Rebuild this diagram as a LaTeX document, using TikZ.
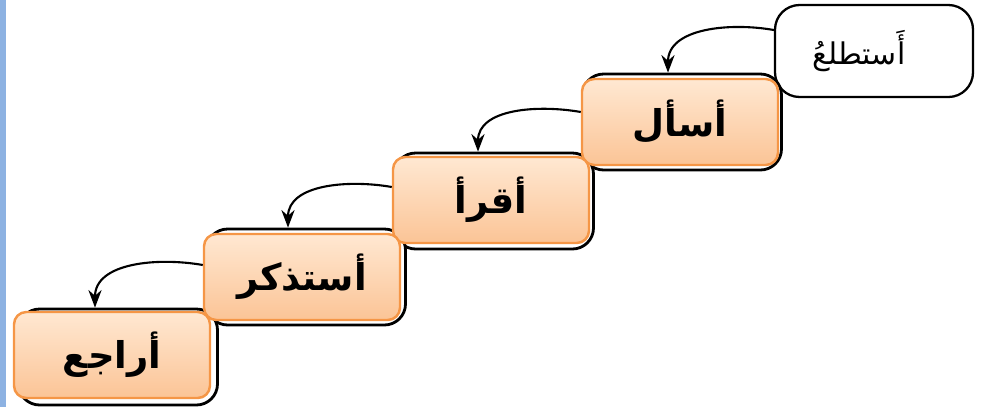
\documentclass[tikz,border=0pt]{standalone}
\usepackage{fontspec}
\TeXXeTstate=1
\newfontfamily\arabicfont[Script=Arabic]{DejaVu Sans}
\usetikzlibrary{arrows.meta}
\definecolor{barblue}{RGB}{141,178,226}
\definecolor{orangeline}{RGB}{245,150,70}
\definecolor{peachtop}{RGB}{255,232,210}
\definecolor{peachbot}{RGB}{251,196,150}
\newlength{\pxu}
\setlength{\pxu}{0.02cm}
\tikzset{
  backbox/.style={draw=black, line width=1.6pt, fill=white, rounded corners=12pt,
    minimum width=199\pxu, minimum height=96\pxu, inner sep=0pt},
  stepbox/.style={draw=orangeline, line width=1.4pt, top color=peachtop, bottom color=peachbot,
    rounded corners=7pt, minimum width=196\pxu, minimum height=86\pxu, inner sep=0pt,
    font=\arabicfont\bfseries\fontsize{21}{26}\selectfont},
  topbox/.style={draw=black, line width=1.3pt, fill=white, rounded corners=14pt,
    minimum width=198\pxu, minimum height=92\pxu, inner sep=0pt,
    font=\arabicfont\fontsize{17}{22}\selectfont},
  link/.style={draw=black, line width=1.2pt, -{Stealth[length=10pt,width=7.5pt]}}
}
\begin{document}
\begin{tikzpicture}[x=0.02cm,y=-0.02cm]
\useasboundingbox (0,0) rectangle (986,407);
\fill[barblue] (0,0) rectangle (6,407);
% top box
\node[topbox] (t0) at (874,51) {\beginR أَستطلعُ\endR\hspace*{30\pxu}};
% back boxes
\node[backbox] (b1) at (682,122) {};
\node[backbox] (b2) at (494,201) {};
\node[backbox] (b3) at (306,277) {};
\node[backbox] (b4) at (118,357) {};
% orange boxes
\node[stepbox] (s1) at (680,122) {\beginR أسأل\endR};
\node[stepbox] (s2) at (491,200) {\beginR أقرأ\endR};
\node[stepbox] (s3) at (302,277) {\beginR أستذكر\endR};
\node[stepbox] (s4) at (112,355) {\beginR أراجع\endR};
% links
\draw[link] (t0.west |- 0,30) to[out=170,in=90] (b1.north -| 668,0);
\draw[link] (s1.west |- 0,112) to[out=170,in=90] (b2.north -| 478,0);
\draw[link] (s2.west |- 0,187) to[out=170,in=90] (b3.north -| 288,0);
\draw[link] (s3.west |- 0,265) to[out=170,in=90] (b4.north -| 95,0);
\end{tikzpicture}
\end{document}
